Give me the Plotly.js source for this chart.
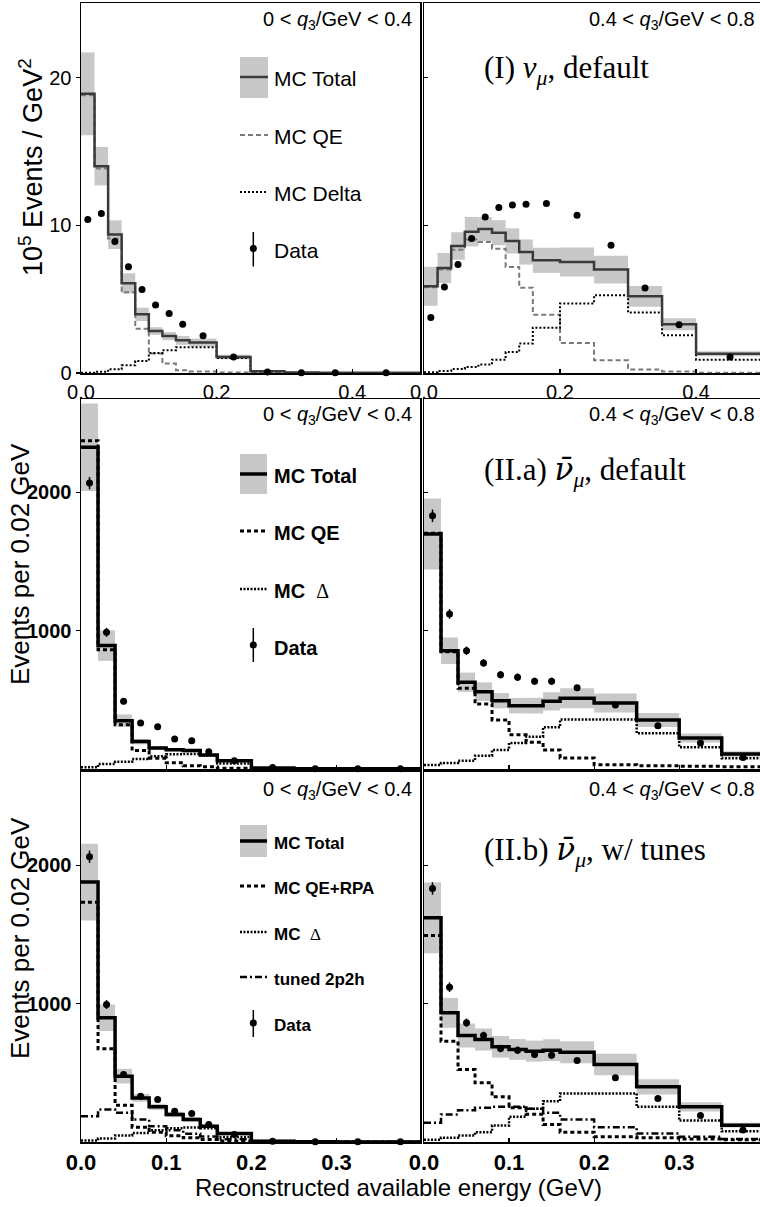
<!DOCTYPE html>
<html><head><meta charset="utf-8">
<script src="https://cdn.plot.ly/plotly-3.0.1.min.js"></script>
<style>html,body{margin:0;padding:0;background:#fff}#chart{width:760px;height:1207px}</style>
</head><body><div id="chart"></div>
<script>
// ---------------- DATA ----------------
const binEdges = [0,0.02,0.04,0.06,0.08,0.10,0.12,0.14,0.16,0.20,0.25,0.30,0.35,0.40,0.50];

// (I) nu_mu, default  (10^5 events / GeV^2)
const nuLowTotal  = [18.9,14.0,9.37,6.07,3.97,2.84,2.5,2.21,2.06,1.08,0.12,0.03,0.01,0.01];
const nuLowErr    = [2.8,1.3,0.97,0.68,0.45,0.26,0.28,0.3,0.27,0.15,0.05,0.01,0.01,0.01];
const nuLowQE     = [18.8,13.85,9.1,5.46,3.0,1.32,0.64,0.18,0.1,0.03,0.01,0,0,0];
const nuLowDelta  = [0.02,0.08,0.25,0.52,0.81,1.35,1.54,1.74,1.74,1.02,0.1,0.01,0,0];
const nuLowData   = [10.4,10.8,8.9,7.2,5.65,4.6,4.02,3.3,2.53,1.08,0.07,0.02,0.02,0.02];
const nuLowDataErr= [0.15,0.15,0.13,0.12,0.1,0.1,0.09,0.08,0.06,0.05,0.02,0.01,0.01,0.01];

const nuHighTotal = [5.87,7.11,8.6,9.57,9.75,9.5,8.94,8.19,7.63,7.52,7.0,5.19,3.3,1.31];
const nuHighErr   = [1.32,1.02,0.93,1.0,0.81,0.85,0.85,0.85,0.85,0.98,0.94,0.7,0.4,0.17];
const nuHighQE    = [5.8,7.0,8.35,9.03,8.87,8.42,7.18,5.78,3.95,2.03,0.86,0.23,0.1,0.02];
const nuHighDelta = [0.05,0.14,0.27,0.41,0.57,0.9,1.42,1.99,3.07,4.7,5.26,4.09,2.55,0.9];
const nuHighData  = [3.75,5.83,7.34,9.1,10.56,11.2,11.38,11.42,11.47,10.68,8.65,5.76,3.27,1.08];
const nuHighDataErr=[0.12,0.14,0.15,0.16,0.17,0.17,0.17,0.17,0.12,0.1,0.09,0.07,0.05,0.03];

// (II.a) anti-nu_mu, default  (events per 0.02 GeV)
const aLowTotal   = [2326,892,349,198,152,140,133,101,60,8,2,1,1];
const aLowErr     = [317,110,45,20,14,12,12,10,7,3,1,0.5,0.5];
const aLowQE      = [2374,863,320,133,77,45,24,17,6,2,0,0,0];
const aLowDelta   = [12,36,53,72,92,106,108,100,40,6,1,0,0];
const aLowData    = [2067,988,489,333,306,217,205,125,60,10,2,1,1];
const aLowDataErr = [45,32,22,18,18,15,14,12,6,2,1,1,1];

const aHighTotal  = [1699,855,627,559,494,458,458,489,511,477,354,224,108];
const aHighErr    = [256,96,70,67,55,56,57,66,72,68,50,33,20];
const aHighQE     = [1705,848,583,470,354,248,193,137,80,31,24,19,17];
const aHighDelta  = [29,43,60,96,137,188,234,301,357,357,258,157,77];
const aHighData   = [1831,1121,855,766,682,663,634,634,588,463,313,188,84];
const aHighDataErr= [45,35,30,28,27,27,26,26,17,15,12,10,7];

// (II.b) anti-nu_mu, w/ tunes
const bLowTotal   = [1879,898,476,319,254,199,163,114,61,5,1,0,0];
const bLowErr     = [278,96,53,28,22,20,17,13,10,2,1,0,0];
const bLowQE      = [1734,674,266,107,70,45,30,18,8,2,0,0,0];
const bLowDelta   = [10,25,47,65,85,100,105,100,37,8,1,0,0];
const bLow2p2h    = [187,235,211,163,114,85,60,40,20,4,1,0,0];
const bLowData    = [2062,994,488,331,307,223,206,127,54,6,2,1,1];
const bLowDataErr = [45,32,22,18,18,15,14,12,6,2,1,1,1];

const bHighTotal  = [1621,934,770,741,688,669,657,664,649,560,399,254,122];
const bHighErr    = [256,108,87,80,78,75,76,79,80,78,55,33,18];
const bHighQE     = [1493,729,524,428,327,247,200,127,71,38,30,22,16];
const bHighDelta  = [16,30,47,71,119,182,240,295,351,351,254,155,78];
const bHigh2p2h   = [139,199,230,247,254,254,240,211,163,107,61,38,22];
const bHighData   = [1833,1119,862,770,676,664,633,628,589,464,314,192,86];
const bHighDataErr= [45,35,30,28,27,27,26,26,17,15,12,10,7];

// tick labels
const xTicksBot = [0,0.1,0.2,0.3], xTickTextBot = ['0.0','0.1','0.2','0.3'];

// ---------------- STYLES ----------------
const FONT = 'Liberation Sans, Arial, Helvetica, sans-serif';
const SERIF = 'Liberation Serif, Times New Roman, serif';
const BAND = '#c8c8c8';
const W = 760, H = 1207;
const st1 = {
  total: {color:'#3a3a3a', width:2.5},
  qe:    {color:'#7a7a7a', width:2, dash:'5px,3px'},
  delta: {color:'black', width:2, dash:'2px,2px'}
};
const st2 = {
  total: {color:'black', width:3.5},
  qe:    {color:'black', width:3, dash:'4px,3px'},
  delta: {color:'black', width:2.5, dash:'2px,1.5px'},
  mec:   {color:'black', width:2.5, dash:'7px,3px,2px,3px'}
};

// ---------------- BUILD ----------------
const traces = [];
function mids(e){const m=[];for(let i=0;i<e.length-1;i++)m.push((e[i]+e[i+1])/2);return m;}
function widths(e){const m=[];for(let i=0;i<e.length-1;i++)m.push(e[i+1]-e[i]);return m;}
function step(v){return v.concat([v[v.length-1]]);}

function addPanel(p){
  const e = binEdges.slice(0, p.total.length+1);
  const c = mids(e), w = widths(e);
  traces.push({type:'bar', x:c, width:w, base:p.total.map((v,i)=>v-p.err[i]),
    y:p.err.map(v=>2*v), marker:{color:BAND, line:{width:0}}, xaxis:p.xa, yaxis:p.ya, hoverinfo:'skip'});
  p.comps.forEach(cp=>{
    traces.push({type:'scatter', mode:'lines', x:e, y:step(cp.v), line:Object.assign({shape:'hv'}, cp.line),
      xaxis:p.xa, yaxis:p.ya});
  });
  traces.push({type:'scatter', mode:'lines', x:e, y:step(p.total), line:Object.assign({shape:'hv'}, p.tline),
    xaxis:p.xa, yaxis:p.ya});
  traces.push({type:'scatter', mode:'markers', x:c, y:p.data,
    error_y:{type:'data', array:p.dataErr, visible:true, width:0, thickness:1.5, color:'black'},
    marker:{size:7, color:'black'}, xaxis:p.xa, yaxis:p.ya, cliponaxis:false});
}

addPanel({xa:'x', ya:'y', total:nuLowTotal, err:nuLowErr, tline:st1.total,
  comps:[{v:nuLowQE, line:st1.qe},{v:nuLowDelta, line:st1.delta}], data:nuLowData, dataErr:nuLowDataErr});
addPanel({xa:'x2', ya:'y2', total:nuHighTotal, err:nuHighErr, tline:st1.total,
  comps:[{v:nuHighQE, line:st1.qe},{v:nuHighDelta, line:st1.delta}], data:nuHighData, dataErr:nuHighDataErr});
addPanel({xa:'x3', ya:'y3', total:aLowTotal, err:aLowErr, tline:st2.total,
  comps:[{v:aLowQE, line:st2.qe},{v:aLowDelta, line:st2.delta}], data:aLowData, dataErr:aLowDataErr});
addPanel({xa:'x4', ya:'y4', total:aHighTotal, err:aHighErr, tline:st2.total,
  comps:[{v:aHighQE, line:st2.qe},{v:aHighDelta, line:st2.delta}], data:aHighData, dataErr:aHighDataErr});
addPanel({xa:'x5', ya:'y5', total:bLowTotal, err:bLowErr, tline:st2.total,
  comps:[{v:bLowQE, line:st2.qe},{v:bLowDelta, line:st2.delta},{v:bLow2p2h, line:st2.mec}], data:bLowData, dataErr:bLowDataErr});
addPanel({xa:'x6', ya:'y6', total:bHighTotal, err:bHighErr, tline:st2.total,
  comps:[{v:bHighQE, line:st2.qe},{v:bHighDelta, line:st2.delta},{v:bHigh2p2h, line:st2.mec}], data:bHighData, dataErr:bHighDataErr});

// ---------------- AXES ----------------
const xL = [81/W, 420/W], xR = [424/W, 1];
const r1 = [1-373/H, 1-3/H], r2 = [1-769/H, 1-399/H], r3 = [1-1142/H, 1-772/H];
const base = {showline:true, mirror:true, linecolor:'black', linewidth:1.5, showgrid:false, zeroline:false,
  tickcolor:'black', ticklen:4, tickwidth:1.2};
function ax(o){return Object.assign({}, base, o);}
const tf1 = {family:FONT, size:20, color:'black'};
const tfB = {family:FONT, size:20, color:'black', weight:'bold'};
const tfX = {family:FONT, size:22, color:'black', weight:'bold'};

const layout = {
  width:W, height:H, margin:{l:0,r:0,t:0,b:0}, showlegend:false, barmode:'overlay',
  paper_bgcolor:'white', plot_bgcolor:'white', font:{family:FONT, color:'black'},
  xaxis:  ax({domain:xL, range:[0,0.5], anchor:'y', ticks:'inside', tickmode:'linear', tick0:0, dtick:0.2, tickformat:'.1f', tickfont:tf1}),
  yaxis:  ax({domain:r1, range:[0,25.05], anchor:'x', ticks:'outside', tickvals:[0,10,20], tickfont:tf1}),
  xaxis2: ax({domain:xR, range:[0,0.494], anchor:'y2', ticks:'inside', tickmode:'linear', tick0:0, dtick:0.2, tickformat:'.1f', tickfont:tf1}),
  yaxis2: ax({domain:r1, range:[0,25.05], anchor:'x2', ticks:'inside', tickvals:[10,20], showticklabels:false}),
  xaxis3: ax({domain:xL, range:[0,0.398], anchor:'y3', ticks:'inside', tickvals:[0.1,0.2,0.3], showticklabels:false}),
  yaxis3: ax({domain:r2, range:[0,2675], anchor:'x3', ticks:'outside', tickvals:[1000,2000], tickfont:tfB}),
  xaxis4: ax({domain:xR, range:[0,0.395], anchor:'y4', ticks:'inside', tickvals:[0.1,0.2,0.3], showticklabels:false}),
  yaxis4: ax({domain:r2, range:[0,2675], anchor:'x4', ticks:'inside', tickvals:[1000,2000], showticklabels:false}),
  xaxis5: ax({domain:xL, range:[0,0.398], anchor:'y5', ticks:'inside', tickvals:xTicksBot, ticktext:xTickTextBot, tickfont:tfX}),
  yaxis5: ax({domain:r3, range:[0,2675], anchor:'x5', ticks:'outside', tickvals:[1000,2000], tickfont:tfB}),
  xaxis6: ax({domain:xR, range:[0,0.395], anchor:'y6', ticks:'inside', tickvals:xTicksBot, ticktext:xTickTextBot, tickfont:tfX}),
  yaxis6: ax({domain:r3, range:[0,2675], anchor:'x6', ticks:'inside', tickvals:[1000,2000], showticklabels:false}),
  shapes:[], annotations:[]
};

// ---------------- DECORATIONS (legend, labels) ----------------
const px = v => v/W, py = v => 1 - v/H;
function ann(x, y, text, o){
  layout.annotations.push(Object.assign({xref:'paper', yref:'paper', x:px(x), y:py(y), text:text, showarrow:false,
    xanchor:'left', yanchor:'middle', font:{family:FONT, size:20, color:'black'}}, o||{}));
}
function rect(x0,y0,x1,y1){layout.shapes.push({type:'rect', xref:'paper', yref:'paper', x0:px(x0), x1:px(x1), y0:py(y1), y1:py(y0), fillcolor:BAND, line:{width:0}, layer:'above'});}
function hline(x0,x1,y,line){layout.shapes.push({type:'line', xref:'paper', yref:'paper', x0:px(x0), x1:px(x1), y0:py(y), y1:py(y), line:line, layer:'above'});}
function dataSw(x,y,y0,y1){
  layout.shapes.push({type:'line', xref:'paper', yref:'paper', x0:px(x), x1:px(x), y0:py(y0), y1:py(y1), line:{color:'black', width:1.5}, layer:'above'});
  layout.shapes.push({type:'circle', xref:'paper', yref:'paper', x0:px(x-3.5), x1:px(x+3.5), y0:py(y+3.5), y1:py(y-3.5), fillcolor:'black', line:{width:0}, layer:'above'});
}
const lgX0 = 240, lgX1 = 268, lgT = 272;
// top-left legend
rect(lgX0,57,lgX1,98); hline(lgX0,lgX1,77,st1.total); hline(lgX0,lgX1,135,st1.qe); hline(lgX0,lgX1,192,st1.delta);
dataSw(253.3,248.5,232,266.5);
const f21 = {family:FONT, size:21, color:'black'};
ann(lgT,79,'MC Total',{font:f21}); ann(lgT,137,'MC QE',{font:f21}); ann(lgT,194,'MC Delta',{font:f21}); ann(lgT,251,'Data',{font:f21});
// middle-left legend
rect(lgX0,454,lgX1-1,494); hline(lgX0,lgX1-1,474,st2.total); hline(lgX0,lgX1-1,531,st2.qe); hline(lgX0,lgX1-1,589,st2.delta);
dataSw(253.3,645,628,662);
const f20b = {family:FONT, size:20, color:'black'};
const D = '<span style="font-family:Liberation Serif,serif;font-weight:normal">Δ</span>';
ann(lgT,476,'<b>MC Total</b>',{font:f20b}); ann(lgT,533,'<b>MC QE</b>',{font:f20b});
ann(lgT,591,'<b>MC </b> '+D,{font:f20b}); ann(lgT,648,'<b>Data</b>',{font:f20b});
// bottom-left legend
rect(lgX0,825,lgX1-1,857); hline(lgX0,lgX1-1,841,st2.total); hline(lgX0,lgX1-1,886,st2.qe); hline(lgX0,lgX1-1,932,st2.delta);
hline(lgX0,lgX1-1,977,st2.mec); dataSw(253.3,1023,1010,1037);
const f17b = {family:FONT, size:17, color:'black'};
ann(lgT,843,'<b>MC Total</b>',{font:f17b}); ann(lgT,888,'<b>MC QE+RPA</b>',{font:f17b});
ann(lgT,934,'<b>MC </b> '+D,{font:f17b}); ann(lgT,979,'<b>tuned 2p2h</b>',{font:f17b}); ann(lgT,1025,'<b>Data</b>',{font:f17b});

// q3 labels
const fq = {family:FONT, size:20, color:'black'};
const qLo = '0 < <i>q</i><sub>3</sub>/GeV < 0.4', qHi = '0.4 < <i>q</i><sub>3</sub>/GeV < 0.8';
[21,416,790].forEach(y=>{
  ann(414,y,qLo,{xanchor:'right', font:fq});
  ann(757,y,qHi,{xanchor:'right', font:fq});
});

// panel titles
const ft = {family:SERIF, size:31, color:'black'};
const nubar = '<span style="font-family:DejaVu Serif,serif"><i>ν\u0304</i></span>';
ann(482,70,'(I) <i>ν</i><sub><i>μ</i></sub>, default',{font:ft});
ann(482,471,'(II.a) '+nubar+'<sub><i>μ</i></sub>, default',{font:ft});
ann(482,851,'(II.b) '+nubar+'<sub><i>μ</i></sub>, w/ tunes',{font:ft});

// axis titles
ann(31,167,'10<sup>5</sup> Events / GeV<sup>2</sup>',{xanchor:'center', textangle:-90, font:{family:FONT,size:27,color:'black'}});
ann(20,564,'Events per 0.02 GeV',{xanchor:'center', textangle:-90, font:{family:FONT,size:26,color:'black'}});
ann(20,938,'Events per 0.02 GeV',{xanchor:'center', textangle:-90, font:{family:FONT,size:26,color:'black'}});
ann(398,1187,'Reconstructed available energy (GeV)',{xanchor:'center', font:{family:FONT,size:24,color:'black'}});

Plotly.newPlot('chart', traces, layout, {staticPlot:true, displayModeBar:false});
</script>
</body></html>
